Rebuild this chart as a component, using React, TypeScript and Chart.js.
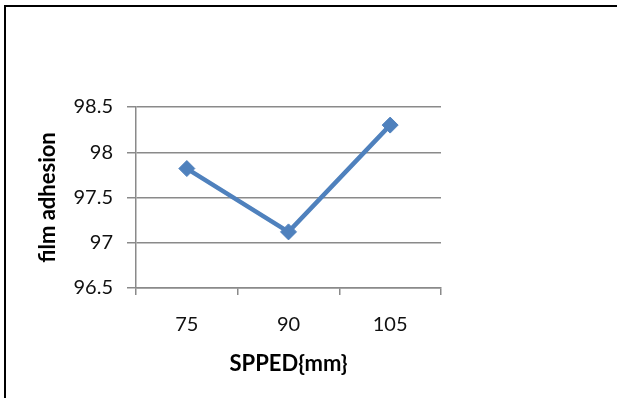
import React, { useEffect, useRef } from "react";
import { Chart, registerables } from "chart.js";

Chart.register(...registerables);

const categories: string[] = ["75", "90", "105"];
const adhesion: number[] = [97.82, 97.12, 98.3];
const yTickValues: number[] = [96.5, 97, 97.5, 98, 98.5];
const xTitle = "SPPED{mm}";
const yTitle = "film adhesion";

export default function App() {
  const ref = useRef<HTMLCanvasElement | null>(null);

  useEffect(() => {
    const canvas = ref.current;
    if (!canvas) return;
    const chart = new Chart(canvas, {
      type: "line",
      data: {
        labels: categories,
        datasets: [
          {
            label: yTitle,
            data: adhesion,
            borderColor: "#4F81BD",
            backgroundColor: "#4F81BD",
            borderWidth: 4.5,
            pointStyle: "rectRot",
            pointRadius: 8,
            pointBorderWidth: 1,
            pointBackgroundColor: "#4F81BD",
            pointBorderColor: "#4F81BD",
            tension: 0,
          },
        ],
      },
      options: {
        animation: false,
        responsive: false,
        maintainAspectRatio: false,
        devicePixelRatio: 1,
        layout: { padding: { left: 35, top: 107, right: 176, bottom: 21 } },
        plugins: {
          legend: { display: false },
          tooltip: { enabled: false },
          title: { display: false },
        },
        scales: {
          x: {
            type: "category",
            offset: true,
            grid: {
              offset: true,
              drawOnChartArea: false,
              drawTicks: true,
              tickLength: 7,
              color: "#8a8a8a",
              lineWidth: 1.5,
            },
            border: { display: true, color: "#8a8a8a", width: 1.5 },
            ticks: {
              padding: 18,
              color: "#111111",
              font: { family: "Lato", size: 20 },
              maxRotation: 0,
            },
            title: {
              display: true,
              text: xTitle,
              color: "#000000",
              font: { family: "Lato", size: 22, weight: "bold" },
              padding: 0,
            },
            afterFit: (s: any) => {
              s.height = 89;
            },
          },
          y: {
            min: 96.5,
            max: 98.5,
            afterBuildTicks: (s: any) => {
              s.ticks = yTickValues.map((v) => ({ value: v }));
            },
            grid: {
              drawOnChartArea: true,
              drawTicks: true,
              tickLength: 9,
              color: "#8a8a8a",
              lineWidth: 1.5,
            },
            border: { display: true, color: "#8a8a8a", width: 1.5 },
            ticks: {
              padding: 14,
              color: "#111111",
              font: { family: "Lato", size: 20 },
              callback: (v: any) => String(Number(v)),
            },
            title: {
              display: true,
              text: yTitle,
              color: "#000000",
              font: { family: "Lato", size: 22, weight: "bold" },
              padding: 0,
            },
            afterFit: (s: any) => {
              s.width = 101;
            },
          },
        },
      },
    });
    return () => chart.destroy();
  }, []);

  return (
    <div
      style={{
        position: "fixed",
        left: 0,
        top: 0,
        width: 617,
        height: 398,
        background: "#ffffff",
        overflow: "hidden",
      }}
    >
      <div
        style={{
          position: "absolute",
          left: 4,
          top: 5,
          width: 620,
          height: 400,
          borderLeft: "2px solid #000",
          borderTop: "2px solid #000",
        }}
      />
      <canvas
        ref={ref}
        width={617}
        height={398}
        style={{ position: "absolute", left: 0, top: 0, width: 617, height: 398 }}
      />
    </div>
  );
}
